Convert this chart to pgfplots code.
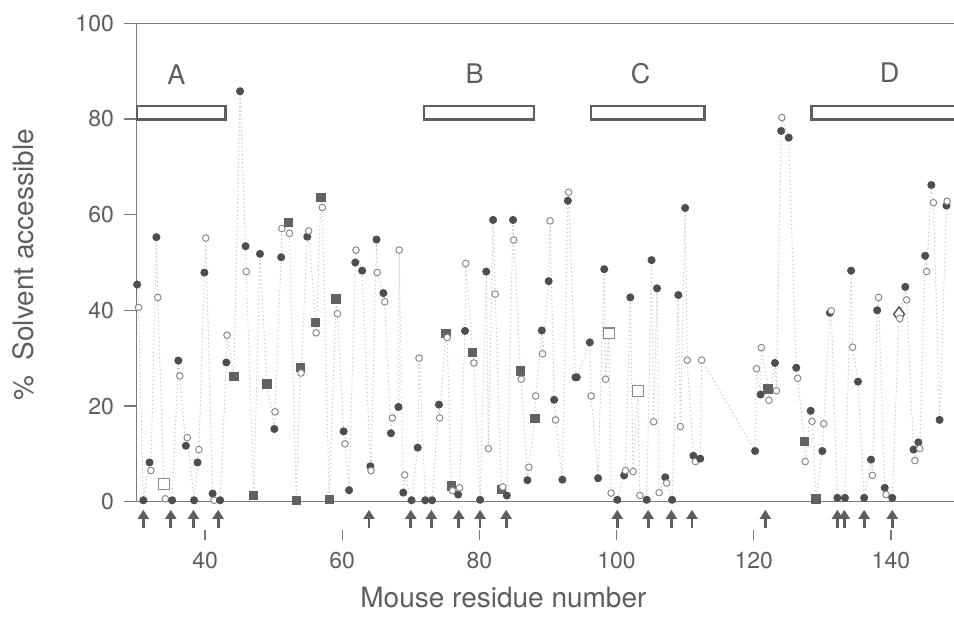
\documentclass[border=0pt]{standalone}
\usepackage{fontspec}
\setmainfont{TeX Gyre Heros}
\usepackage{pgfplots}
\pgfplotsset{compat=1.18}
\usepackage{pgfplotstable}
\usetikzlibrary{arrows.meta}

\definecolor{txt}{HTML}{5E5E5E}
\definecolor{axc}{HTML}{7A7A7A}
\definecolor{fc}{HTML}{4E4E4E}
\definecolor{sc}{HTML}{626262}
\definecolor{oc}{HTML}{8A8A8A}
\definecolor{lc}{HTML}{C4C4C4}

% residue, % accessible, symbol class
\pgfplotstableread{
x y c
30.1 45.4 f
30.3 40.6 o
31.0 0.3 f
31.9 8.2 f
32.1 6.5 o
32.9 55.3 f
33.1 42.7 o
34.0 3.7 q
34.2 0.6 o
35.2 0.3 f
36.1 29.5 f
36.3 26.3 o
37.2 11.7 f
37.4 13.4 o
38.4 0.3 f
38.9 8.2 f
39.1 10.9 o
39.9 47.9 f
40.1 55.1 o
41.1 1.7 f
41.3 0.3 o
42.2 0.3 f
43.1 29.1 f
43.2 34.8 o
44.2 26.2 s
45.1 85.8 f
45.9 53.4 f
46.0 48.1 o
47.1 1.3 s
48.0 51.8 f
49.0 24.6 s
50.1 15.2 f
50.2 18.8 o
51.1 51.1 f
51.2 57.1 o
52.2 58.4 s
52.3 56.1 o
53.3 0.3 s
53.9 28.1 s
54.0 26.9 o
54.9 55.4 f
55.1 56.6 o
56.1 37.5 s
56.2 35.3 o
56.9 63.6 s
57.1 61.5 o
58.1 0.4 s
59.1 42.4 s
59.3 39.3 o
60.2 14.7 f
60.4 12.1 o
61.0 2.4 f
61.9 50.0 f
62.0 52.6 o
62.9 48.3 f
64.1 7.4 f
64.2 6.5 o
65.0 54.8 f
65.1 47.9 o
66.0 43.6 f
66.2 41.8 o
67.1 14.3 f
67.3 17.5 o
68.2 19.8 f
68.3 52.6 o
68.9 1.9 f
69.1 5.6 o
70.1 0.3 f
71.0 11.3 f
71.2 30.0 o
72.1 0.3 f
73.1 0.3 f
74.1 20.3 f
74.2 17.5 o
75.1 35.1 s
75.3 34.3 o
75.9 3.3 s
76.1 2.3 o
76.9 1.5 f
77.1 2.9 o
77.9 35.7 f
78.0 49.8 o
79.0 31.2 s
79.2 29.0 o
80.1 0.4 f
81.0 48.1 f
81.3 11.1 o
82.0 58.9 f
82.3 43.4 o
83.2 2.5 s
83.4 3.1 o
84.0 1.3 f
84.9 58.9 f
85.0 54.7 o
86.0 27.3 s
86.1 25.6 o
87.0 4.5 f
87.2 7.2 o
88.1 17.4 s
88.2 22.1 o
89.1 35.8 f
89.2 30.9 o
90.1 46.1 f
90.3 58.7 o
90.9 21.3 f
91.1 17.1 o
92.1 4.6 f
92.9 62.9 f
93.0 64.7 o
94.0 26.0 f
94.2 26.0 f
96.1 33.3 f
96.3 22.1 o
97.3 4.9 f
98.2 48.6 f
98.4 25.6 o
98.9 35.2 q
99.2 1.8 o
100.1 0.4 f
101.1 5.5 f
101.3 6.5 o
102.0 42.7 f
102.4 6.3 o
103.1 23.2 q
103.4 1.3 o
104.4 0.4 f
105.1 50.5 f
105.4 16.7 o
105.9 44.6 f
106.2 1.9 o
107.1 5.1 f
107.3 3.9 o
108.1 0.4 f
109.0 43.2 f
109.3 15.7 o
110.0 61.4 f
110.3 29.6 o
111.2 9.6 f
111.5 8.4 o
112.2 9.0 f
112.4 29.6 o
120.2 10.6 f
120.4 27.8 o
121.0 22.4 f
121.1 32.2 o
122.1 23.6 s
122.2 21.2 o
123.1 29.0 f
123.3 23.2 o
124.0 77.5 f
124.1 80.3 o
125.1 76.1 f
126.2 28.0 f
126.4 25.8 o
127.4 12.6 s
127.5 8.4 o
128.3 19.0 f
128.5 16.8 o
129.1 0.6 s
130.0 10.6 f
130.2 16.3 o
131.1 39.5 f
131.3 39.9 o
132.2 0.8 f
133.3 0.8 f
134.2 48.3 f
134.4 32.3 o
135.2 25.1 f
136.1 0.8 f
137.1 8.8 f
137.3 5.5 o
138.0 40.0 f
138.2 42.7 o
139.1 2.9 f
139.3 1.5 o
140.2 0.8 f
141.2 39.2 d
141.3 38.3 o
142.1 44.9 f
142.3 42.2 o
143.3 10.9 f
143.5 8.6 o
144.0 12.4 f
144.2 11.1 o
145.0 51.4 f
145.2 48.1 o
145.9 66.2 f
146.2 62.5 o
147.1 17.1 f
148.1 61.9 f
148.2 62.8 o
}\pts

% arrows under the axis
\pgfplotstableread{
x y u v
31.0 -5.6 0 3.9
35.0 -5.6 0 3.9
38.3 -5.6 0 3.9
41.9 -5.6 0 3.9
63.9 -5.6 0 3.9
70.0 -5.6 0 3.9
73.0 -5.6 0 3.9
77.0 -5.6 0 3.9
80.1 -5.6 0 3.9
83.9 -5.6 0 3.9
100.1 -5.6 0 3.9
104.6 -5.6 0 3.9
108.0 -5.6 0 3.9
111.0 -5.6 0 3.9
121.7 -5.6 0 3.9
132.2 -5.6 0 3.9
133.2 -5.6 0 3.9
136.1 -5.6 0 3.9
140.2 -5.6 0 3.9
}\arrows

\begin{document}
\begin{tikzpicture}
\begin{axis}[
    scale only axis,
    width=408.75pt,
    height=239.2pt,
    xmin=30, xmax=149.2,
    ymin=0, ymax=100,
    clip=false,
    axis x line*=box,
    axis y line*=left,
    axis line style={axc, line width=0.75pt},
    xtick={40,60,...,140},
    ytick={0,20,...,100},
    xtick style={draw=none},
    ytick style={axc, line width=0.75pt},
    tick align=outside,
    major tick length=6pt,
    /pgf/number format/assume math mode=true,
    ticklabel style={font=\fontsize{11.5}{13}\selectfont, text=txt},
    xticklabel style={anchor=base, yshift=-27.6pt},
    yticklabel style={anchor=east, xshift=-1.8pt},
]
% tick marks sitting below the arrows
\addplot[only marks, mark=|, mark size=2.5pt, mark options={axc, line width=0.6pt}]
  coordinates {(40,-6.95) (60,-6.95) (80,-6.95) (100,-6.95) (120,-6.95) (140,-6.95)};

% helix boxes
\addplot[draw=txt, line width=1.2pt] coordinates {(30.1,79.9) (43.0,79.9) (43.0,82.7) (30.1,82.7)} -- cycle;
\addplot[draw=txt, line width=1.2pt] coordinates {(71.9,79.9) (88.0,79.9) (88.0,82.7) (71.9,82.7)} -- cycle;
\addplot[draw=txt, line width=1.2pt] coordinates {(96.3,79.9) (112.8,79.9) (112.8,82.7) (96.3,82.7)} -- cycle;
\addplot[draw=txt, line width=1.2pt] coordinates {(149.4,79.9) (128.4,79.9) (128.4,82.7) (149.4,82.7)};

\addplot[scatter, scatter src=explicit symbolic, lc, line width=0.5pt,
    dash pattern=on 0.6pt off 1.4pt,
    scatter/classes={
      f={mark=*, mark size=1.75pt, draw=fc, fill=fc, solid},
      o={mark=*, mark size=1.65pt, draw=oc, fill=white, solid, line width=0.5pt},
      s={mark=square*, mark size=2.1pt, draw=sc, fill=sc, solid},
      q={mark=square*, mark size=2.7pt, draw=oc, fill=white, solid, line width=0.6pt},
      d={mark=diamond*, mark size=3.6pt, draw=fc, fill=white, solid, line width=0.7pt}
    }]
  table[x=x, y=y, meta=c] {\pts};

\addplot[quiver={u=\thisrow{u}, v=\thisrow{v}}, txt, line width=1.4pt,
    -{Triangle[width=5.5pt, length=4.5pt]}]
  table[x=x, y=y] {\arrows};

\node[font=\fontsize{13.5}{15}\selectfont, text=txt] at (axis cs:35.8,89.2) {A};
\node[font=\fontsize{13.5}{15}\selectfont, text=txt] at (axis cs:79.3,89.5) {B};
\node[font=\fontsize{13.5}{15}\selectfont, text=txt] at (axis cs:103.5,89.5) {C};
\node[font=\fontsize{13.5}{15}\selectfont, text=txt] at (axis cs:139.8,89.6) {D};

\node[anchor=base, font=\fontsize{14}{16}\selectfont, text=txt] at (axis cs:83.5,-22.2) {Mouse residue number};
\end{axis}
\node[rotate=90, font=\fontsize{14}{16}\selectfont, text=txt] at ([xshift=-56.75pt, yshift=-1.2pt]current axis.west) {\%\ \ Solvent accessible};
\pgfresetboundingbox
\path[use as bounding box] ([xshift=-68.25pt, yshift=-57.65pt]current axis.south west) rectangle ([yshift=11.65pt]current axis.north east);
\end{tikzpicture}
\end{document}
